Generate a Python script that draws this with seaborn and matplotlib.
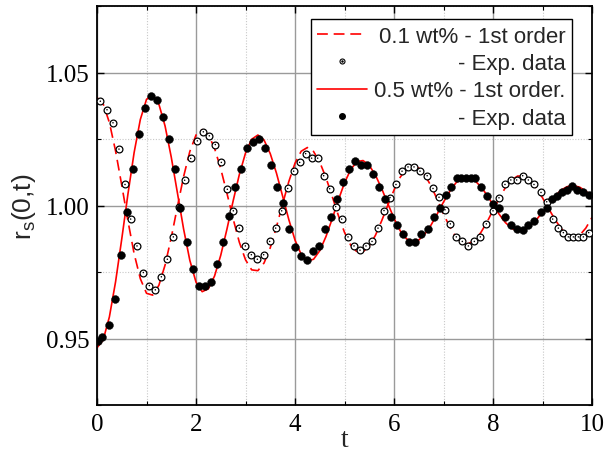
import matplotlib
matplotlib.use("Agg")
import matplotlib.pyplot as plt
import seaborn as sns
import numpy as np
from matplotlib.lines import Line2D
from matplotlib.ticker import MultipleLocator

# ---------------- data ----------------
fit_t = [0.0, 0.125, 0.25, 0.375, 0.5, 0.625, 0.75, 0.875, 1.0, 1.125, 1.25, 1.375, 1.5, 1.625,
         1.75, 1.875, 2.0, 2.125, 2.25, 2.375, 2.5, 2.625, 2.75, 2.875, 3.0, 3.125, 3.25, 3.375,
         3.5, 3.625, 3.75, 3.875, 4.0, 4.125, 4.25, 4.375, 4.5, 4.625, 4.75, 4.875, 5.0, 5.125,
         5.25, 5.375, 5.5, 5.625, 5.75, 5.875, 6.0, 6.125, 6.25, 6.375, 6.5, 6.625, 6.75, 6.875,
         7.0, 7.125, 7.25, 7.375, 7.5, 7.625, 7.75, 7.875, 8.0, 8.125, 8.25, 8.375, 8.5, 8.625,
         8.75, 8.875, 9.0, 9.125, 9.25, 9.375, 9.5, 9.625, 9.75, 9.875, 10.0]

fit_01 = [1.0406, 1.0382, 1.0312, 1.0205, 1.0076, 0.9942, 0.9819, 0.9725, 0.9670, 0.9663, 0.9700,
          0.9776, 0.9879, 0.9996, 1.0109, 1.0203, 1.0265, 1.0285, 1.0266, 1.0215, 1.0138, 1.0046,
          0.9950, 0.9862, 0.9796, 0.9758, 0.9755, 0.9784, 0.9841, 0.9919, 1.0006, 1.0090, 1.0159,
          1.0204, 1.0218, 1.0203, 1.0163, 1.0105, 1.0035, 0.9963, 0.9899, 0.9851, 0.9826, 0.9826,
          0.9848, 0.9888, 0.9942, 1.0001, 1.0058, 1.0106, 1.0138, 1.0150, 1.0141, 1.0114, 1.0073,
          1.0022, 0.9968, 0.9920, 0.9882, 0.9859, 0.9856, 0.9869, 0.9897, 0.9936, 0.9982, 1.0027,
          1.0067, 1.0096, 1.0111, 1.0109, 1.0094, 1.0066, 1.0029, 0.9988, 0.9948, 0.9914, 0.9890,
          0.9880, 0.9888, 0.9915, 0.9955]

fit_05 = [0.9465, 0.9495, 0.9581, 0.9713, 0.9874, 1.0043, 1.0199, 1.0323, 1.0399, 1.0417, 1.0381,
          1.0299, 1.0182, 1.0047, 0.9911, 0.9794, 0.9712, 0.9676, 0.9687, 0.9735, 0.9813, 0.9911,
          1.0017, 1.0116, 1.0197, 1.0249, 1.0265, 1.0246, 1.0195, 1.0122, 1.0035, 0.9947, 0.9870,
          0.9816, 0.9791, 0.9798, 0.9830, 0.9883, 0.9949, 1.0020, 1.0085, 1.0135, 1.0165, 1.0169,
          1.0151, 1.0114, 1.0064, 1.0007, 0.9952, 0.9905, 0.9875, 0.9863, 0.9870, 0.9893, 0.9927,
          0.9969, 1.0013, 1.0053, 1.0085, 1.0103, 1.0106, 1.0095, 1.0072, 1.0040, 1.0003, 0.9967,
          0.9936, 0.9914, 0.9905, 0.9909, 0.9923, 0.9946, 0.9975, 1.0006, 1.0035, 1.0058, 1.0071,
          1.0075, 1.0069, 1.0054, 1.0034]

exp01_t = [0.067, 0.202, 0.323, 0.444, 0.566, 0.680, 0.808, 0.936, 1.057, 1.178, 1.300, 1.421,
           1.542, 1.657, 1.771, 1.893, 2.027, 2.148, 2.269, 2.390, 2.512, 2.633, 2.754, 2.875,
           2.997, 3.118, 3.239, 3.367, 3.488, 3.609, 3.731, 3.852, 3.973, 4.094, 4.215, 4.336,
           4.458, 4.579, 4.700, 4.822, 4.943, 5.071, 5.192, 5.313, 5.434, 5.556, 5.677, 5.798,
           5.919, 6.040, 6.162, 6.283, 6.404, 6.525, 6.670, 6.788, 6.909, 7.030, 7.138, 7.259,
           7.380, 7.502, 7.623, 7.744, 7.865, 8.000, 8.121, 8.242, 8.360, 8.478, 8.600, 8.714,
           8.828, 8.970, 9.085, 9.205, 9.320, 9.421, 9.522, 9.623, 9.724, 9.825, 9.933]
exp01_v = [1.0392, 1.0360, 1.0311, 1.0212, 1.0079, 0.9949, 0.9848, 0.9748, 0.9699, 0.9683, 0.9732,
           0.9798, 0.9882, 0.9996, 1.0095, 1.0177, 1.0243, 1.0277, 1.0262, 1.0229, 1.0162, 1.0061,
           0.9980, 0.9915, 0.9848, 0.9815, 0.9798, 0.9815, 0.9865, 0.9915, 0.9980, 1.0064, 1.0129,
           1.0162, 1.0195, 1.0178, 1.0178, 1.0112, 1.0063, 0.9996, 0.9949, 0.9882, 0.9848, 0.9832,
           0.9848, 0.9865, 0.9915, 0.9981, 1.0030, 1.0079, 1.0129, 1.0145, 1.0145, 1.0129, 1.0112,
           1.0064, 1.0031, 0.9984, 0.9931, 0.9882, 0.9865, 0.9848, 0.9865, 0.9882, 0.9931, 0.9980,
           1.0029, 1.0079, 1.0096, 1.0096, 1.0112, 1.0096, 1.0079, 1.0049, 1.0014, 0.9949, 0.9915,
           0.9898, 0.9882, 0.9882, 0.9882, 0.9882, 0.9898]

exp05_t = [0.020, 0.108, 0.242, 0.364, 0.485, 0.606, 0.727, 0.848, 0.970, 1.091, 1.212, 1.333,
           1.455, 1.576, 1.680, 1.824, 1.946, 2.067, 2.188, 2.309, 2.430, 2.552, 2.673, 2.794,
           2.915, 3.036, 3.158, 3.279, 3.394, 3.515, 3.636, 3.758, 3.879, 4.000, 4.121, 4.242,
           4.364, 4.485, 4.606, 4.727, 4.848, 4.970, 5.098, 5.219, 5.340, 5.461, 5.582, 5.703,
           5.824, 5.945, 6.067, 6.188, 6.309, 6.430, 6.552, 6.680, 6.801, 6.923, 7.044, 7.152,
           7.266, 7.360, 7.455, 7.549, 7.643, 7.758, 7.879, 8.000, 8.121, 8.242, 8.364, 8.491,
           8.600, 8.714, 8.828, 8.970, 9.085, 9.185, 9.286, 9.387, 9.488, 9.589, 9.690, 9.812,
           9.933]
exp05_v = [0.9490, 0.9504, 0.9551, 0.9649, 0.9813, 0.9974, 1.0137, 1.0267, 1.0365, 1.0412, 1.0396,
           1.0331, 1.0251, 1.0137, 0.9992, 0.9861, 0.9763, 0.9698, 0.9698, 0.9714, 0.9779, 0.9861,
           0.9959, 1.0070, 1.0137, 1.0218, 1.0237, 1.0249, 1.0218, 1.0153, 1.0070, 1.0008, 0.9911,
           0.9845, 0.9812, 0.9796, 0.9828, 0.9846, 0.9911, 0.9957, 1.0024, 1.0089, 1.0139, 1.0168,
           1.0153, 1.0153, 1.0118, 1.0070, 1.0024, 0.9957, 0.9926, 0.9892, 0.9861, 0.9861, 0.9892,
           0.9910, 0.9957, 0.9991, 1.0041, 1.0070, 1.0104, 1.0104, 1.0104, 1.0104, 1.0104, 1.0070,
           1.0036, 1.0005, 0.9990, 0.9955, 0.9926, 0.9911, 0.9907, 0.9926, 0.9941, 0.9974, 0.9992,
           1.0024, 1.0036, 1.0049, 1.0058, 1.0074, 1.0058, 1.0051, 1.0039]

labels = ["0.1 wt% - 1st order", "- Exp. data", "0.5 wt% - 1st order.", "- Exp. data"]
x_ticks = [0, 2, 4, 6, 8, 10]
y_ticks = [0.95, 1.00, 1.05]

# ---------------- plotting ----------------
sns.set_theme(style="white")
plt.rcParams["font.family"] = ["Liberation Serif", "DejaVu Serif"]
plt.rcParams["mathtext.fontset"] = "custom"
plt.rcParams["mathtext.rm"] = "Liberation Sans"

fig = plt.figure(figsize=(6.15, 4.52), dpi=100)
ax = fig.add_axes([97 / 615, 1 - 406 / 452, 495 / 615, 399 / 452])

sns.lineplot(x=fit_t, y=fit_01, ax=ax, color="#ff0000", linewidth=1.2,
             linestyle=(0, (6.5, 3.5)), zorder=2)
sns.lineplot(x=fit_t, y=fit_05, ax=ax, color="#ff0000", linewidth=1.2, zorder=2)
sns.scatterplot(x=exp01_t, y=exp01_v, ax=ax, marker="o", s=24, facecolor="white",
                edgecolor="black", linewidth=0.9, zorder=3)
sns.scatterplot(x=exp01_t, y=exp01_v, ax=ax, marker="o", s=1.2, color="black",
                edgecolor="none", linewidth=0, zorder=4)
sns.scatterplot(x=exp05_t, y=exp05_v, ax=ax, marker="o", s=32, color="black",
                edgecolor="black", linewidth=0.3, zorder=5)

ax.set_xlim(0, 10)
ax.set_ylim(0.925, 1.075)
ax.set_xticks(x_ticks)
ax.set_xticklabels([str(v) for v in x_ticks])
ax.set_yticks(y_ticks)
ax.set_yticklabels([f"{v:.2f}" for v in y_ticks])
ax.xaxis.set_minor_locator(MultipleLocator(1))
ax.yaxis.set_minor_locator(MultipleLocator(0.025))

ax.grid(True, which="major", color="#9a9a9a", linewidth=1.0, linestyle="-")
ax.grid(True, which="minor", color="#c8c8c8", linewidth=0.8, linestyle=(0, (1, 1.5)))
ax.set_axisbelow(True)

ax.tick_params(which="both", direction="in", top=True, right=True, bottom=True, left=True,
               colors="black")
ax.tick_params(which="major", length=5, width=1.0, labelsize=18)
ax.tick_params(which="minor", length=3, width=0.8)
ax.tick_params(axis="x", which="major", pad=6)
ax.tick_params(axis="y", which="major", pad=5)
for sp in ax.spines.values():
    sp.set_color("black")
    sp.set_linewidth(1.3)

ax.set_xlabel("t", fontsize=20, labelpad=-6)
ax.set_ylabel(r"r$_\mathrm{s}$(0,t)", fontsize=19, family="Liberation Sans", labelpad=6)

# legend
h1 = Line2D([], [], color="#ff0000", linewidth=1.2, linestyle=(0, (6.5, 3.5)))
h2a = Line2D([], [], color="black", marker="o", linestyle="none", markersize=3.6,
             markerfacecolor="white", markeredgewidth=0.8)
h2b = Line2D([], [], color="black", marker="o", linestyle="none", markersize=0.8)
h3 = Line2D([], [], color="#ff0000", linewidth=1.2)
h4 = Line2D([], [], color="black", marker="o", linestyle="none", markersize=4)
leg = ax.legend([h1, (h2a, h2b), h3, h4], labels, loc="upper right",
                bbox_to_anchor=(0.96, 0.967), borderaxespad=0, frameon=True, fancybox=False,
                edgecolor="black", framealpha=1, prop={"family": "Liberation Sans", "size": 16},
                handlelength=2.25, handletextpad=0.3, labelspacing=0.28, borderpad=0.3)
leg.get_frame().set_linewidth(1.0)
fig.canvas.draw()
rend = fig.canvas.get_renderer()
widths = [t.get_window_extent(rend).width for t in leg.get_texts()]
wmax = max(widths)
for t, w in zip(leg.get_texts(), widths):
    t.set_position((wmax - w, 0))

fig.savefig("out.png", dpi=100)
